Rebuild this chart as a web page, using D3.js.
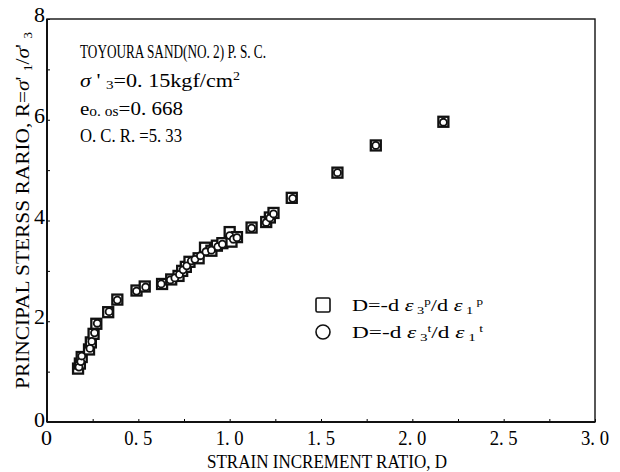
<!DOCTYPE html>
<html>
<head>
<meta charset="utf-8">
<script src="https://cdn.jsdelivr.net/npm/d3@7"></script>
<style>
  body { margin: 0; background: #fff; }
  svg { display: block; }
  text { font-family: "Liberation Serif", "DejaVu Serif", serif; fill: #000; }
</style>
</head>
<body>
<svg width="620" height="472"></svg>
<script>
// D = -d e3p / d e1p  (squares)
var plasticD = [0.17, 0.18, 0.19, 0.23, 0.24, 0.255, 0.27, 0.335, 0.385, 0.49, 0.535, 0.63, 0.68, 0.72,
  0.74, 0.76, 0.78, 0.83, 0.865, 0.90, 0.93, 0.96, 1.00, 1.01, 1.04, 1.12, 1.20, 1.22, 1.24, 1.34, 1.59, 1.80, 2.17];
var plasticR = [1.06, 1.16, 1.29, 1.44, 1.58, 1.75, 1.95, 2.18, 2.43, 2.61, 2.69, 2.74, 2.83, 2.90,
  3.00, 3.08, 3.18, 3.25, 3.46, 3.40, 3.50, 3.55, 3.77, 3.58, 3.67, 3.86, 3.97, 4.06, 4.15, 4.45, 4.95, 5.49, 5.96];

// D = -d e3t / d e1t  (circles)
var totalD = [0.175, 0.185, 0.19, 0.235, 0.245, 0.26, 0.275, 0.34, 0.385, 0.49, 0.54, 0.625, 0.675, 0.70,
  0.725, 0.745, 0.765, 0.79, 0.81, 0.84, 0.87, 0.90, 0.935, 0.96, 1.00, 1.02, 1.04, 1.12, 1.20, 1.22, 1.24,
  1.345, 1.59, 1.80, 2.17];
var totalR = [1.09, 1.20, 1.31, 1.46, 1.60, 1.77, 1.96, 2.19, 2.42, 2.60, 2.68, 2.74, 2.82, 2.86,
  2.93, 3.02, 3.10, 3.20, 3.23, 3.30, 3.38, 3.41, 3.48, 3.53, 3.70, 3.63, 3.66, 3.85, 3.96, 4.05, 4.13,
  4.44, 4.95, 5.49, 5.95];

var xTicks = [0, 0.5, 1.0, 1.5, 2.0, 2.5, 3.0];
var yTicks = [0, 2, 4, 6, 8];

var svg = d3.select("svg"),
    plotLeft = 47, plotRight = 595, plotTop = 19, plotBottom = 422;

var x = d3.scaleLinear().domain([0, 3]).range([plotLeft, plotRight]);
var y = d3.scaleLinear().domain([0, 8]).range([plotBottom, plotTop]);

function fmt(v) {
  return v === 0 ? "0" : d3.format(".1f")(v).replace(".", ". ");
}

// small inward ticks
var xAxis = d3.axisTop(x).tickValues(d3.range(0, 3.01, 0.25)).tickSize(3).tickFormat("");
var yAxis = d3.axisRight(y).tickValues(d3.range(0, 8.01, 1)).tickSize(3).tickFormat("");
svg.append("g").attr("transform", "translate(0," + plotBottom + ")").call(xAxis)
  .call(function (g) { g.select(".domain").remove(); });
svg.append("g").attr("transform", "translate(" + plotLeft + ",0)").call(yAxis)
  .call(function (g) { g.select(".domain").remove(); });

// frame
svg.append("rect")
  .attr("x", plotLeft).attr("y", plotTop)
  .attr("width", plotRight - plotLeft).attr("height", plotBottom - plotTop)
  .attr("fill", "none").attr("stroke", "#111").attr("stroke-width", 1.4);
svg.append("line").attr("x1", plotLeft).attr("x2", plotRight).attr("y1", plotBottom).attr("y2", plotBottom)
  .attr("stroke", "#111").attr("stroke-width", 2.2);
svg.append("line").attr("x1", plotLeft).attr("x2", plotLeft).attr("y1", plotTop).attr("y2", plotBottom)
  .attr("stroke", "#111").attr("stroke-width", 2);

// tick labels
svg.append("g").selectAll("text")
  .data(xTicks)
  .enter()
  .append("text")
  .attr("x", function (d) { return d === 0 ? x(d) - 6 : x(d) - 14; })
  .attr("y", 445)
  .attr("textLength", function (d) { return d === 0 ? 11 : 28; })
  .attr("lengthAdjust", "spacingAndGlyphs")
  .style("font-size", "21px")
  .text(fmt);

svg.append("g").selectAll("text")
  .data(yTicks)
  .enter()
  .append("text")
  .attr("x", 34)
  .attr("y", function (d) { return d === 0 ? y(d) + 5 : y(d) + 3; })
  .attr("textLength", 11)
  .attr("lengthAdjust", "spacingAndGlyphs")
  .style("font-size", "21px")
  .text(function (d) { return d; });

// axis titles
svg.append("text")
  .attr("x", 207).attr("y", 468)
  .attr("textLength", 240).attr("lengthAdjust", "spacingAndGlyphs")
  .style("font-size", "19px")
  .text("STRAIN INCREMENT RATIO, D");

var yt = svg.append("text")
  .attr("transform", "translate(29,389) rotate(-90)")
  .attr("textLength", 357).attr("lengthAdjust", "spacingAndGlyphs")
  .style("font-size", "19px");
yt.append("tspan").text("PRINCIPAL STERSS RARIO,  R=");
yt.append("tspan").style("font-style", "italic").text("σ");
yt.append("tspan").text("' ");
yt.append("tspan").attr("dy", 3).style("font-size", "12px").text("1");
yt.append("tspan").attr("dy", -3).text("/");
yt.append("tspan").style("font-style", "italic").text("σ");
yt.append("tspan").text("' ");
yt.append("tspan").attr("dy", 3).style("font-size", "12px").text("3");

// annotation
var note = svg.append("g").style("font-size", "19px");
note.append("text").attr("x", 80).attr("y", 58)
  .attr("textLength", 186).attr("lengthAdjust", "spacingAndGlyphs")
  .text("TOYOURA SAND(NO. 2) P. S. C.");
var n2 = note.append("text").attr("x", 80).attr("y", 87)
  .attr("textLength", 160).attr("lengthAdjust", "spacingAndGlyphs");
n2.append("tspan").style("font-style", "italic").text("σ");
n2.append("tspan").text(" ' ");
n2.append("tspan").attr("dy", 2).style("font-size", "13px").text("3");
n2.append("tspan").attr("dy", -2).text("=0. 15kgf/cm");
n2.append("tspan").attr("dy", -7).style("font-size", "12px").text("2");
var n3 = note.append("text").attr("x", 80).attr("y", 115)
  .attr("textLength", 103).attr("lengthAdjust", "spacingAndGlyphs");
n3.append("tspan").text("e");
n3.append("tspan").attr("dy", 1).style("font-size", "14px").text("o. os");
n3.append("tspan").attr("dy", -1).text("=0. 668");
note.append("text").attr("x", 80).attr("y", 142)
  .attr("textLength", 102).attr("lengthAdjust", "spacingAndGlyphs")
  .text("O. C. R. =5. 33");

// data points
var squares = d3.zip(plasticD, plasticR);
var circles = d3.zip(totalD, totalR);

svg.append("g").selectAll("rect")
  .data(squares)
  .enter()
  .append("rect")
  .attr("x", function (d) { return x(d[0]) - 5; })
  .attr("y", function (d) { return y(d[1]) - 5; })
  .attr("width", 10).attr("height", 10)
  .attr("fill", "#fff").attr("stroke", "#111").attr("stroke-width", 2.3);

svg.append("g").selectAll("circle")
  .data(circles)
  .enter()
  .append("circle")
  .attr("cx", function (d) { return x(d[0]); })
  .attr("cy", function (d) { return y(d[1]); })
  .attr("r", 3.5)
  .attr("fill", "#fff").attr("stroke", "#111").attr("stroke-width", 1.8);

// legend
var lg = svg.append("g");
lg.append("rect").attr("x", 316).attr("y", 298).attr("width", 14).attr("height", 14).attr("rx", 1.5)
  .attr("fill", "none").attr("stroke", "#111").attr("stroke-width", 1.6);
lg.append("circle").attr("cx", 323).attr("cy", 332).attr("r", 7)
  .attr("fill", "none").attr("stroke", "#111").attr("stroke-width", 1.6);

function legendText(yPos, sup) {
  var t = lg.append("text").attr("x", 352).attr("y", yPos)
    .attr("textLength", 131).attr("lengthAdjust", "spacingAndGlyphs")
    .style("font-size", "17px");
  t.append("tspan").text("D=-d");
  t.append("tspan").style("font-style", "italic").text(" ε");
  t.append("tspan").attr("dy", 3).style("font-size", "11px").text(" 3");
  t.append("tspan").attr("dy", -9).style("font-size", "10px").text(sup);
  t.append("tspan").attr("dy", 6).text("/d");
  t.append("tspan").style("font-style", "italic").text(" ε");
  t.append("tspan").attr("dy", 3).style("font-size", "11px").text(" 1");
  t.append("tspan").attr("dy", -9).style("font-size", "10px").text(" " + sup);
}
legendText(311, "p");
legendText(338, "t");
</script>
</body>
</html>
